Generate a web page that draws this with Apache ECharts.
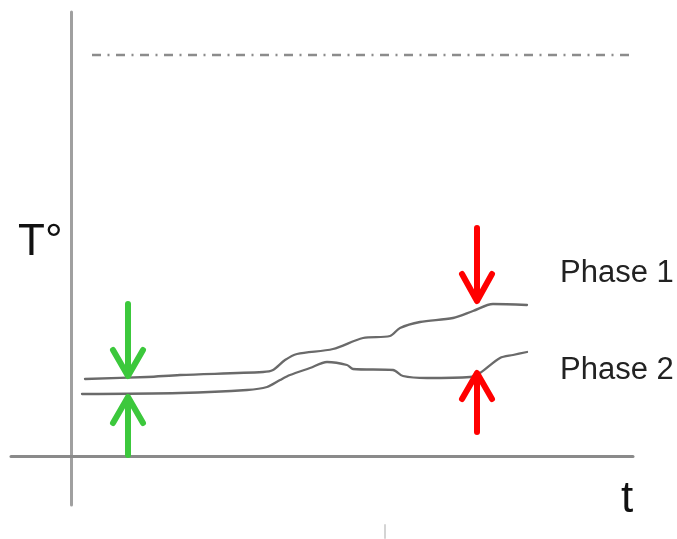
<!DOCTYPE html>
<html>
<head>
<meta charset="utf-8">
<script src="https://cdn.jsdelivr.net/npm/echarts@6/dist/echarts.min.js"></script>
<style>
  html, body { margin: 0; padding: 0; background: #fff; }
  #chart { width: 677px; height: 539px; }
</style>
</head>
<body>
<div id="chart"></div>
<script>
// time (t) and temperature (T°) in arbitrary schematic units, origin at axis crossing
const phase1 = [
  [1.4, 7.7], [7.6, 7.9], [10.9, 8.1], [19.2, 8.4], [20.2, 8.6], [21.4, 9.6],
  [22.6, 10.2], [26.2, 10.7], [29.2, 11.8], [31.9, 12.0], [32.9, 12.8],
  [34.9, 13.4], [38.2, 13.8], [40.2, 14.5], [42.2, 15.2], [45.6, 15.1]
];
const phase2 = [
  [1.1, 6.2], [10.9, 6.3], [17.6, 6.6], [19.6, 6.9], [20.9, 7.6], [21.9, 8.1],
  [23.9, 8.8], [25.6, 9.4], [27.6, 9.1], [28.2, 8.7], [32.2, 8.6], [33.2, 8.0],
  [35.6, 7.8], [39.9, 7.9], [40.9, 8.3], [42.9, 9.8], [44.2, 10.1], [45.6, 10.4]
];
// upper reference level (dash-dot)
const limitLine = [[2.1, 40.1], [56.9, 40.1]];
// arrows: shaft + head (polyline through the tip)
const greenDownShaft = [[5.7, 15.2], [5.7, 8.1]];
const greenDownHead = [[4.2, 10.6], [5.7, 8.0], [7.2, 10.6]];
const greenUpShaft = [[5.7, 5.8], [5.7, 0.1]];
const greenUpHead = [[4.2, 3.3], [5.7, 5.9], [7.2, 3.3]];
const redDownShaft = [[40.6, 22.8], [40.6, 15.6]];
const redDownHead = [[39.1, 18.2], [40.6, 15.5], [42.1, 18.2]];
const redUpShaft = [[40.6, 8.2], [40.6, 2.4]];
const redUpHead = [[39.1, 5.7], [40.6, 8.3], [42.1, 5.7]];
// small stray tick under the t axis
const strayTick = [[31.4, -6.9], [31.4, -8.2]];

const labels = ["T°", "t", "Phase 1", "Phase 2"];

const chart = echarts.init(document.getElementById("chart"), null, { renderer: "canvas" });

const GREEN = "#3cc83c";
const RED = "#ff0000";
const CURVE = "#6a6a6a";

function seg(data, color, width, extra) {
  return Object.assign({
    type: "line",
    data: data,
    symbol: "none",
    silent: true,
    clip: false,
    animation: false,
    lineStyle: { color: color, width: width, cap: "round", join: "round" }
  }, extra || {});
}

chart.setOption({
  animation: false,
  grid: { left: 11, right: 44, top: 12, bottom: 34 },
  xAxis: {
    type: "value",
    min: -6.0,
    max: 56.2,
    splitLine: { show: false },
    axisTick: { show: false },
    axisLabel: { show: false },
    axisLine: { show: true, onZero: true, lineStyle: { color: "#8a8a8a", width: 3 } }
  },
  yAxis: {
    type: "value",
    min: -4.9,
    max: 44.4,
    splitLine: { show: false },
    axisTick: { show: false },
    axisLabel: { show: false },
    axisLine: { show: true, onZero: true, lineStyle: { color: "#a0a0a0", width: 3 } }
  },
  series: [
    seg(limitLine, "#8c8c8c", 2, {
      lineStyle: { color: "#8c8c8c", width: 2.5, type: [9, 6.5, 2, 6.5] }
    }),
    seg(phase1, CURVE, 2.3, { smooth: 0.3 }),
    seg(phase2, CURVE, 2.3, { smooth: 0.3 }),
    seg(greenDownShaft, GREEN, 6),
    seg(greenDownHead, GREEN, 6),
    seg(greenUpShaft, GREEN, 6),
    seg(greenUpHead, GREEN, 6),
    seg(redDownShaft, RED, 6),
    seg(redDownHead, RED, 6),
    seg(redUpShaft, RED, 6),
    seg(redUpHead, RED, 6),
    seg(strayTick, "#d4d4d4", 2)
  ],
  graphic: [
    { type: "text", left: 18, top: 221, style: { text: labels[0], font: "44px 'Liberation Sans', Arial, sans-serif", fill: "#111" } },
    { type: "text", left: 621, top: 478, style: { text: labels[1], font: "44px 'Liberation Sans', Arial, sans-serif", fill: "#111" } },
    { type: "text", left: 560, top: 258, style: { text: labels[2], font: "31px 'Liberation Sans', Arial, sans-serif", fill: "#222" } },
    { type: "text", left: 560, top: 355, style: { text: labels[3], font: "31px 'Liberation Sans', Arial, sans-serif", fill: "#222" } }
  ]
});
</script>
</body>
</html>
